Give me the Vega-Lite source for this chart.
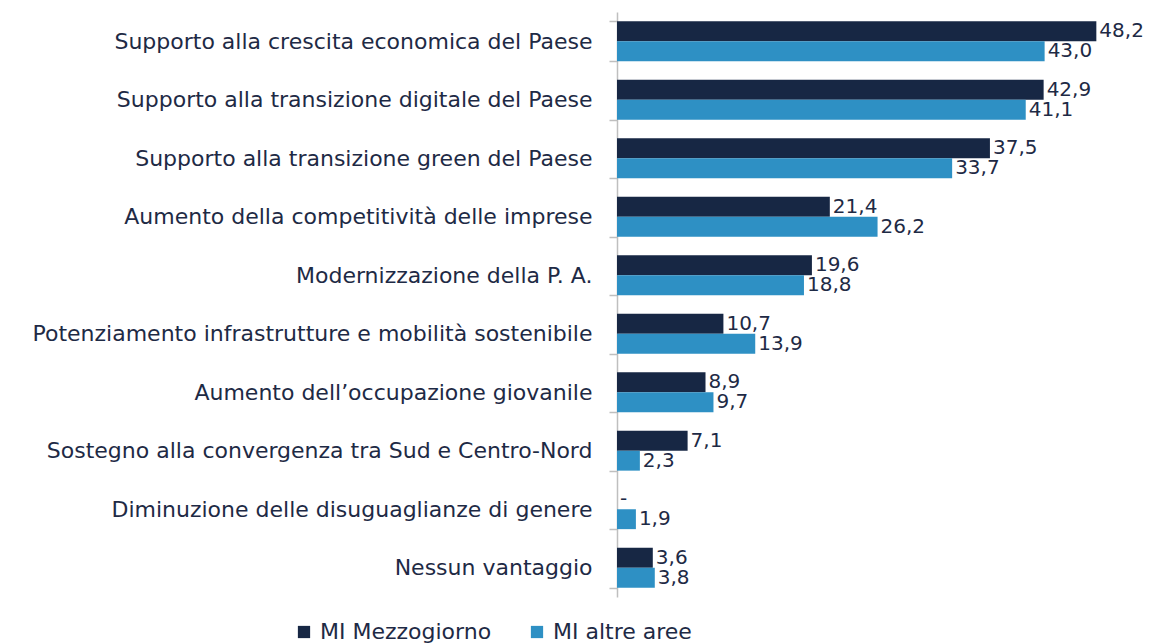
{
  "$schema": "https://vega.github.io/schema/vega-lite/v6.json",
  "autosize": "none",
  "width": 541,
  "height": 585,
  "padding": {"left": 617, "top": 12, "right": 0, "bottom": 47},
  "background": "white",
  "config": {"view": {"stroke": null}, "font": "DejaVu Sans"},
  "data": {"values": [
    {"cat": "Supporto alla crescita economica del Paese", "series": "MI Mezzogiorno", "value": 48.2, "label": "48,2"},
    {"cat": "Supporto alla crescita economica del Paese", "series": "MI altre aree", "value": 43.0, "label": "43,0"},
    {"cat": "Supporto alla transizione digitale del Paese", "series": "MI Mezzogiorno", "value": 42.9, "label": "42,9"},
    {"cat": "Supporto alla transizione digitale del Paese", "series": "MI altre aree", "value": 41.1, "label": "41,1"},
    {"cat": "Supporto alla transizione green del Paese", "series": "MI Mezzogiorno", "value": 37.5, "label": "37,5"},
    {"cat": "Supporto alla transizione green del Paese", "series": "MI altre aree", "value": 33.7, "label": "33,7"},
    {"cat": "Aumento della competitività delle imprese", "series": "MI Mezzogiorno", "value": 21.4, "label": "21,4"},
    {"cat": "Aumento della competitività delle imprese", "series": "MI altre aree", "value": 26.2, "label": "26,2"},
    {"cat": "Modernizzazione della P. A.", "series": "MI Mezzogiorno", "value": 19.6, "label": "19,6"},
    {"cat": "Modernizzazione della P. A.", "series": "MI altre aree", "value": 18.8, "label": "18,8"},
    {"cat": "Potenziamento infrastrutture e mobilità sostenibile", "series": "MI Mezzogiorno", "value": 10.7, "label": "10,7"},
    {"cat": "Potenziamento infrastrutture e mobilità sostenibile", "series": "MI altre aree", "value": 13.9, "label": "13,9"},
    {"cat": "Aumento dell’occupazione giovanile", "series": "MI Mezzogiorno", "value": 8.9, "label": "8,9"},
    {"cat": "Aumento dell’occupazione giovanile", "series": "MI altre aree", "value": 9.7, "label": "9,7"},
    {"cat": "Sostegno alla convergenza tra Sud e Centro-Nord", "series": "MI Mezzogiorno", "value": 7.1, "label": "7,1"},
    {"cat": "Sostegno alla convergenza tra Sud e Centro-Nord", "series": "MI altre aree", "value": 2.3, "label": "2,3"},
    {"cat": "Diminuzione delle disuguaglianze di genere", "series": "MI Mezzogiorno", "value": 0, "label": "-"},
    {"cat": "Diminuzione delle disuguaglianze di genere", "series": "MI altre aree", "value": 1.9, "label": "1,9"},
    {"cat": "Nessun vantaggio", "series": "MI Mezzogiorno", "value": 3.6, "label": "3,6"},
    {"cat": "Nessun vantaggio", "series": "MI altre aree", "value": 3.8, "label": "3,8"}
  ]},
  "encoding": {
    "y": {
      "field": "cat", "type": "nominal", "sort": null,
      "scale": {"paddingInner": 0.32, "paddingOuter": 0.16},
      "axis": {
        "title": null, "labelFontSize": 22, "labelColor": "#1e2a45", "labelPadding": 17,
        "domainColor": "#bfbfbf", "domainWidth": 1.5, "tickColor": "#bfbfbf", "tickWidth": 1.5,
        "tickSize": 8, "tickBand": "extent", "labelLimit": 700
      }
    },
    "yOffset": {"field": "series", "type": "nominal", "sort": ["MI Mezzogiorno", "MI altre aree"]},
    "x": {"field": "value", "type": "quantitative", "scale": {"domain": [0, 54.4]}, "axis": null}
  },
  "layer": [
    {
      "mark": {"type": "bar"},
      "encoding": {
        "color": {
          "field": "series", "type": "nominal",
          "scale": {"domain": ["MI Mezzogiorno", "MI altre aree"], "range": ["#172744", "#2e90c4"]},
          "legend": {
            "title": null, "orient": "none", "direction": "horizontal",
            "legendX": -324, "legendY": 609,
            "symbolType": "square", "symbolSize": 150, "symbolStrokeWidth": 0,
            "labelFontSize": 22, "labelColor": "#1e2a45", "columnPadding": 34, "labelOffset": 5,
            "labelLimit": 400
          }
        }
      }
    },
    {
      "mark": {"type": "text", "align": "left", "baseline": "middle", "dx": 3, "fontSize": 20, "color": "#1e2a45"},
      "encoding": {"text": {"field": "label"}}
    }
  ]
}
